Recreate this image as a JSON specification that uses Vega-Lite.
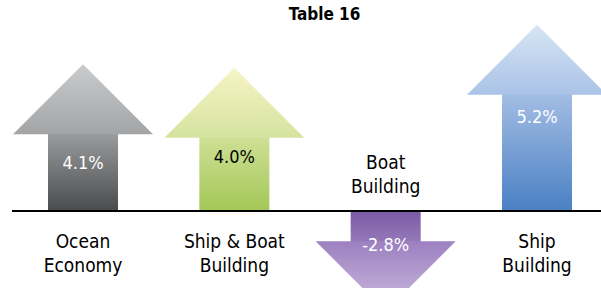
{
  "$schema": "https://vega.github.io/schema/vega-lite/v6.json",
  "width": 589,
  "height": 288,
  "autosize": {"type": "none"},
  "padding": {"left": 12, "top": 0, "right": 0, "bottom": 0},
  "background": "white",
  "config": {"view": {"stroke": null}},
  "title": {
    "text": "Table 16",
    "font": "'DejaVu Sans Condensed', 'Roboto Condensed', Roboto, sans-serif",
    "fontSize": 17,
    "fontWeight": "bold",
    "color": "black",
    "anchor": "middle",
    "dx": 18,
    "offset": -24
  },
  "data": {
    "values": [
      {"sector": "Ocean Economy", "value": 4.1, "name": "Ocean\nEconomy", "pct": "4.1%"},
      {"sector": "Ship & Boat Building", "value": 4.0, "name": "Ship & Boat\nBuilding", "pct": "4.0%"},
      {"sector": "Boat Building", "value": -2.8, "name": "Boat\nBuilding", "pct": "-2.8%"},
      {"sector": "Ship Building", "value": 5.2, "name": "Ship\nBuilding", "pct": "5.2%"}
    ]
  },
  "layer": [
    {
      "encoding": {
        "x": {"field": "sector", "type": "nominal", "sort": null, "scale": {"type": "point", "padding": 0.446, "align": 0.526}, "axis": null},
        "y": {"field": "value", "type": "quantitative", "scale": {"domain": [-2.151, 5.894], "nice": false, "zero": false}, "axis": null}
      },
      "layer": [
        {
          "transform": [{"filter": "datum.sector === 'Ocean Economy'"}],
          "mark": {"type": "bar", "width": 70, "yOffset": 68,
            "fill": {"gradient": "linear", "x1": 0, "y1": 0, "x2": 0, "y2": 1, "stops": [{"offset": 0, "color": "#9c9d9f"}, {"offset": 1, "color": "#4a4b4d"}]}},
          "encoding": {"y2": {"datum": 0}}
        },
        {
          "transform": [{"filter": "datum.sector === 'Ocean Economy'"}],
          "mark": {"type": "point", "shape": "M0,-0.5L1,0.5L-1,0.5Z", "size": 19600, "yOffset": 35, "filled": true, "opacity": 1, "strokeWidth": 0,
            "fill": {"gradient": "linear", "x1": 0, "y1": 0, "x2": 0, "y2": 1, "stops": [{"offset": 0, "color": "#cacbcd"}, {"offset": 1, "color": "#a3a4a6"}]}}
        },
        {
          "transform": [{"filter": "datum.sector === 'Ship & Boat Building'"}],
          "mark": {"type": "bar", "width": 70, "yOffset": 68,
            "fill": {"gradient": "linear", "x1": 0, "y1": 0, "x2": 0, "y2": 1, "stops": [{"offset": 0, "color": "#d0e096"}, {"offset": 1, "color": "#a3c757"}]}},
          "encoding": {"y2": {"datum": 0}}
        },
        {
          "transform": [{"filter": "datum.sector === 'Ship & Boat Building'"}],
          "mark": {"type": "point", "shape": "M0,-0.5L1,0.5L-1,0.5Z", "size": 19600, "yOffset": 35, "filled": true, "opacity": 1, "strokeWidth": 0,
            "fill": {"gradient": "linear", "x1": 0, "y1": 0, "x2": 0, "y2": 1, "stops": [{"offset": 0, "color": "#f7f4c6"}, {"offset": 1, "color": "#d5e39f"}]}}
        },
        {
          "transform": [{"filter": "datum.sector === 'Boat Building'"}],
          "mark": {"type": "bar", "width": 70, "yOffset": -68,
            "fill": {"gradient": "linear", "x1": 0, "y1": 0, "x2": 0, "y2": 1, "stops": [{"offset": 0, "color": "#7b5aa6"}, {"offset": 1, "color": "#967aba"}]}},
          "encoding": {"y2": {"datum": 0}}
        },
        {
          "transform": [{"filter": "datum.sector === 'Boat Building'"}],
          "mark": {"type": "point", "shape": "M-1,-0.5L1,-0.5L0,0.5Z", "size": 19600, "yOffset": -35, "filled": true, "opacity": 1, "strokeWidth": 0,
            "fill": {"gradient": "linear", "x1": 0, "y1": 0, "x2": 0, "y2": 1, "stops": [{"offset": 0, "color": "#9c80c0"}, {"offset": 1, "color": "#cdbbe0"}]}}
        },
        {
          "transform": [{"filter": "datum.sector === 'Ship Building'"}],
          "mark": {"type": "bar", "width": 70, "yOffset": 68,
            "fill": {"gradient": "linear", "x1": 0, "y1": 0, "x2": 0, "y2": 1, "stops": [{"offset": 0, "color": "#a4bee4"}, {"offset": 1, "color": "#4a80c4"}]}},
          "encoding": {"y2": {"datum": 0}}
        },
        {
          "transform": [{"filter": "datum.sector === 'Ship Building'"}],
          "mark": {"type": "point", "shape": "M0,-0.5L1,0.5L-1,0.5Z", "size": 19600, "yOffset": 35, "filled": true, "opacity": 1, "strokeWidth": 0,
            "fill": {"gradient": "linear", "x1": 0, "y1": 0, "x2": 0, "y2": 1, "stops": [{"offset": 0, "color": "#d8e5f5"}, {"offset": 1, "color": "#a9c2e6"}]}}
        },
        {
          "transform": [{"filter": "datum.value > 0"}],
          "mark": {"type": "text", "font": "'DejaVu Sans Condensed', 'Roboto Condensed', Roboto, sans-serif", "fontSize": 18, "baseline": "middle",
            "yOffset": {"expr": "datum.sector === 'Ocean Economy' ? 100 : datum.sector === 'Ship Building' ? 93 : 90"}},
          "encoding": {
            "text": {"field": "pct"},
            "color": {"condition": {"test": "datum.sector === 'Ship & Boat Building'", "value": "black"}, "value": "white"}
          }
        },
        {
          "transform": [{"filter": "datum.value < 0"}],
          "mark": {"type": "text", "font": "'DejaVu Sans Condensed', 'Roboto Condensed', Roboto, sans-serif", "fontSize": 18, "baseline": "middle", "yOffset": -65, "color": "white"},
          "encoding": {"text": {"field": "pct"}}
        },
        {
          "transform": [{"filter": "datum.value > 0"}],
          "mark": {"type": "text", "font": "'DejaVu Sans Condensed', 'Roboto Condensed', Roboto, sans-serif", "fontSize": 19, "baseline": "alphabetic", "yOffset": 37, "lineBreak": "\n", "lineHeight": 24, "color": "black"},
          "encoding": {"text": {"field": "name"}, "y": {"datum": 0}}
        },
        {
          "transform": [{"filter": "datum.value < 0"}],
          "mark": {"type": "text", "font": "'DejaVu Sans Condensed', 'Roboto Condensed', Roboto, sans-serif", "fontSize": 19, "baseline": "alphabetic", "yOffset": -42, "lineBreak": "\n", "lineHeight": 24, "color": "black"},
          "encoding": {"text": {"field": "name"}, "y": {"datum": 0}}
        }
      ]
    },
    {
      "mark": {"type": "rule", "color": "black", "strokeWidth": 1.5},
      "encoding": {"y": {"datum": 0}}
    }
  ]
}
